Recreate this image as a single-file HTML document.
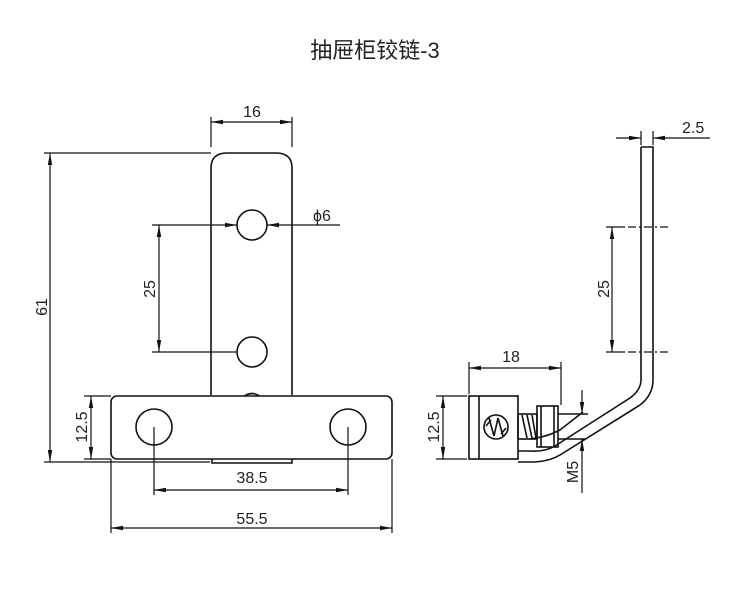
<!DOCTYPE html>
<html><head><meta charset="utf-8"><style>
body{margin:0;background:#fff}
svg{display:block}
text{font-family:"Liberation Sans",sans-serif;font-size:16px;fill:#222}
</style></head><body>
<svg width="750" height="613" viewBox="0 0 750 613" xmlns="http://www.w3.org/2000/svg">
<defs>
<marker id="a" markerWidth="12" markerHeight="6" refX="12" refY="3" orient="auto-start-reverse" markerUnits="userSpaceOnUse"><path d="M0,0.8 L12,3 L0,5.2z" fill="#111"/></marker>
</defs>
<text x="375" y="58" text-anchor="middle" style="font-family:'Liberation Sans','Noto Sans CJK SC',sans-serif;font-size:22px">抽屉柜铰链-3</text>
<g stroke="#111" stroke-width="1.6" fill="none">
<path d="M211,395 V168 Q211,153 227,153 H276 Q292,153 292,168 V395"/>
<circle cx="252" cy="225" r="15"/>
<circle cx="252" cy="352" r="15"/>
<path d="M243,397 Q252,390 261,397"/>
<path d="M212,459 V463 H292 V459"/>
<rect x="111" y="396" width="281" height="63" rx="6" fill="#fff"/>
<circle cx="154" cy="427" r="18"/>
<circle cx="348" cy="427" r="18"/>
<path d="M641,147 H653 V380 Q653,395 640,405 L560,455 Q550,461 535,462 H518"/>
<path d="M641,147 V380 Q641,390 630,398 L555,446 Q545,452 530,451 H518"/>
<path d="M583,412 L560,430 Q547,437 530,439"/>
<rect x="469" y="396" width="49" height="63"/>
<line x1="479" y1="396" x2="479" y2="459"/>
<circle cx="496" cy="427" r="12"/>
<path d="M489,418 L494,436 L498,418 L503,436 M486,426 L491,420 M501,434 L506,428"/>
<rect x="518" y="414" width="19" height="25"/>
<path d="M522,415 L527,438 M527,415 L532,438 M532,415 L536,438"/>
<rect x="537" y="406" width="21" height="41"/>
<line x1="541" y1="406" x2="541" y2="447"/><line x1="554" y1="406" x2="554" y2="447"/>
<path d="M558,414 H588 M558,439 H585"/>
</g>
<g stroke="#111" stroke-width="1.2" fill="none">
<path d="M211,147 V117 M292,147 V117"/>
<line x1="211" y1="122" x2="292" y2="122" marker-start="url(#a)" marker-end="url(#a)"/>
<path d="M44,153 H211 M44,462 H210"/>
<line x1="50" y1="153" x2="50" y2="462" marker-start="url(#a)" marker-end="url(#a)"/>
<line x1="152" y1="225" x2="237" y2="225" marker-end="url(#a)"/>
<line x1="340" y1="225" x2="267" y2="225" marker-end="url(#a)"/>
<path d="M152,352 H237"/>
<line x1="159" y1="225" x2="159" y2="352" marker-start="url(#a)" marker-end="url(#a)"/>
<path d="M84,396 H111 M84,459 H111"/>
<line x1="91" y1="396" x2="91" y2="459" marker-start="url(#a)" marker-end="url(#a)"/>
<path d="M154,427 V495 M348,427 V495"/>
<line x1="154" y1="490" x2="348" y2="490" marker-start="url(#a)" marker-end="url(#a)"/>
<path d="M111,459 V533 M392,459 V533"/>
<line x1="111" y1="528" x2="392" y2="528" marker-start="url(#a)" marker-end="url(#a)"/>
<path d="M641,131 V145 M653,131 V145"/>
<line x1="616" y1="138" x2="641" y2="138" marker-end="url(#a)"/>
<line x1="710" y1="138" x2="653" y2="138" marker-end="url(#a)"/>
<path d="M606,227 H625 M606,352 H625"/>
<path d="M628,227 H668 M628,352 H668" stroke-dasharray="8,3,2,3"/>
<line x1="612" y1="227" x2="612" y2="352" marker-start="url(#a)" marker-end="url(#a)"/>
<path d="M469,362 V394 M561,362 V405"/>
<line x1="469" y1="368" x2="561" y2="368" marker-start="url(#a)" marker-end="url(#a)"/>
<path d="M436,396 H467 M436,459 H467"/>
<line x1="443" y1="396" x2="443" y2="459" marker-start="url(#a)" marker-end="url(#a)"/>
<line x1="582" y1="390" x2="582" y2="414" marker-end="url(#a)"/>
<line x1="582" y1="493" x2="582" y2="439" marker-end="url(#a)"/>
</g>
<text x="252" y="117" text-anchor="middle">16</text>
<text x="313" y="221">ϕ6</text>
<text x="252" y="524" text-anchor="middle">55.5</text>
<text x="252" y="483" text-anchor="middle">38.5</text>
<text x="511" y="362" text-anchor="middle">18</text>
<text x="682" y="133">2.5</text>
<text transform="translate(47,307) rotate(-90)" text-anchor="middle">61</text>
<text transform="translate(155,289) rotate(-90)" text-anchor="middle">25</text>
<text transform="translate(87,427) rotate(-90)" text-anchor="middle">12.5</text>
<text transform="translate(439,427) rotate(-90)" text-anchor="middle">12.5</text>
<text transform="translate(609,289) rotate(-90)" text-anchor="middle">25</text>
<text transform="translate(578,472) rotate(-90)" text-anchor="middle">M5</text>
</svg>
</body></html>
